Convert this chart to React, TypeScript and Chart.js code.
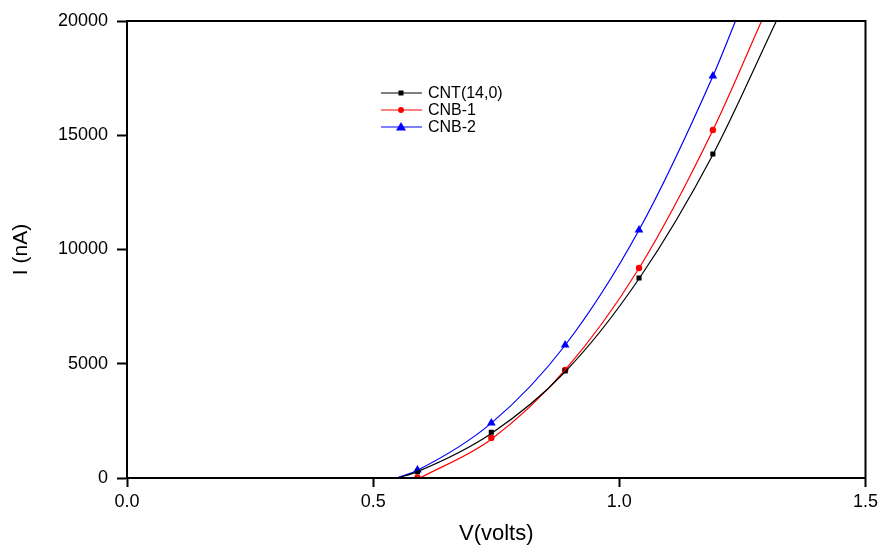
import React, { useEffect, useRef } from "react";
import { Chart, registerables } from "chart.js";

Chart.register(...registerables);

// Measured points
const voltages = [0.59, 0.74, 0.89, 1.04, 1.19];
const cntI = [280, 2000, 4680, 8750, 14180];
const cnb1I = [20, 1750, 4730, 9190, 15230];
const cnb2I = [350, 2410, 5820, 10850, 17590];

// Fitted curves
const cntFitV = [0.55, 0.59, 0.74, 0.89, 1.04, 1.19, 1.319];
const cntFitI = [0, 280, 1950, 4650, 8720, 14150, 20000];
const cnb1FitV = [0.595, 0.74, 0.89, 1.04, 1.19, 1.289];
const cnb1FitI = [0, 1700, 4730, 9180, 15220, 20000];
const cnb2FitV = [0.548, 0.59, 0.74, 0.89, 1.04, 1.19, 1.236];
const cnb2FitI = [0, 340, 2400, 5810, 10850, 17580, 20000];

const seriesNames = ["CNT(14,0)", "CNB-1", "CNB-2"];
const seriesColors = ["#000000", "#ff0000", "#0000ff"];
const seriesMarkers = ["rect", "circle", "triangle"];

const xTicks = [0, 0.5, 1.0, 1.5];
const yTicks = [0, 5000, 10000, 15000, 20000];

const FONT = "'Liberation Sans', Arial, sans-serif";

function pts(xs: number[], ys: number[]) {
  return xs.map((x, i) => ({ x, y: ys[i] }));
}

function drawMarker(ctx: CanvasRenderingContext2D, kind: string, x: number, y: number, color: string) {
  ctx.save();
  ctx.fillStyle = color;
  ctx.beginPath();
  if (kind === "rect") {
    ctx.rect(x - 2.5, y - 2.5, 5, 5);
  } else if (kind === "circle") {
    ctx.arc(x, y, 3, 0, Math.PI * 2);
  } else {
    ctx.moveTo(x, y - 5);
    ctx.lineTo(x + 5, y + 3.5);
    ctx.lineTo(x - 5, y + 3.5);
    ctx.closePath();
  }
  ctx.fill();
  ctx.restore();
}

const framePlugin = {
  id: "frame",
  afterDraw(chart: any) {
    const { ctx, chartArea } = chart;
    const { left, top, right, bottom } = chartArea;
    ctx.save();
    ctx.strokeStyle = "#000";
    ctx.lineWidth = 2;
    ctx.strokeRect(left, top, right - left, bottom - top);
    // legend
    const lx = left + 254;
    const ly = top + 72;
    ctx.font = `16px ${FONT}`;
    ctx.textBaseline = "middle";
    ctx.textAlign = "left";
    seriesNames.forEach((name, i) => {
      const y = ly + i * 17;
      ctx.strokeStyle = seriesColors[i];
      ctx.lineWidth = 1;
      ctx.beginPath();
      ctx.moveTo(lx, y);
      ctx.lineTo(lx + 41, y);
      ctx.stroke();
      drawMarker(ctx, seriesMarkers[i], lx + 20, y, seriesColors[i]);
      ctx.fillStyle = "#000";
      ctx.fillText(name, lx + 47, y + 1);
    });
    ctx.restore();
  },
};

export default function App() {
  const ref = useRef<HTMLCanvasElement | null>(null);

  useEffect(() => {
    if (!ref.current) return;
    const curveDs = (xs: number[], ys: number[], color: string) => ({
      type: "line" as const,
      data: pts(xs, ys),
      borderColor: color,
      backgroundColor: color,
      borderWidth: 1.2,
      pointRadius: 0,
      cubicInterpolationMode: "monotone" as const,
      fill: false,
    });
    const markerDs = (ys: number[], color: string, style: string, r: number) => ({
      type: "line" as const,
      data: pts(voltages, ys),
      showLine: false,
      borderColor: color,
      backgroundColor: color,
      pointStyle: style,
      pointRadius: r,
      pointBorderWidth: 0,
    });
    const chart = new Chart(ref.current, {
      type: "line",
      data: {
        datasets: [
          curveDs(cntFitV, cntFitI, seriesColors[0]),
          curveDs(cnb1FitV, cnb1FitI, seriesColors[1]),
          curveDs(cnb2FitV, cnb2FitI, seriesColors[2]),
          markerDs(cntI, seriesColors[0], "rect", 3.6),
          markerDs(cnb1I, seriesColors[1], "circle", 3.2),
          markerDs(cnb2I, seriesColors[2], "triangle", 5),
        ] as any,
      },
      options: {
        animation: false,
        responsive: false,
        layout: { padding: { left: 0, top: 21, right: 16, bottom: 0 } },
        plugins: { legend: { display: false }, tooltip: { enabled: false } },
        scales: {
          x: {
            type: "linear",
            min: 0,
            max: 1.5,
            afterBuildTicks: (s: any) => {
              s.ticks = xTicks.map((v) => ({ value: v }));
            },
            afterFit: (s: any) => {
              s.height = 70;
            },
            grid: { drawOnChartArea: false, tickLength: 9, tickColor: "#000", tickWidth: 2 },
            border: { display: true, color: "#000", width: 2 },
            ticks: {
              color: "#000",
              font: { family: FONT, size: 18 },
              padding: 4,
              callback: (v: any) => Number(v).toFixed(1),
            },
            title: {
              display: true,
              text: "V(volts)",
              color: "#000",
              font: { family: FONT, size: 22 },
              padding: { top: 0, bottom: 1 },
            },
          },
          y: {
            type: "linear",
            min: 0,
            max: 20000,
            afterBuildTicks: (s: any) => {
              s.ticks = yTicks.map((v) => ({ value: v }));
            },
            afterFit: (s: any) => {
              s.width = 127;
            },
            grid: { drawOnChartArea: false, tickLength: 10, tickColor: "#000", tickWidth: 2 },
            border: { display: true, color: "#000", width: 2 },
            ticks: {
              color: "#000",
              font: { family: FONT, size: 18 },
              padding: 9,
              callback: (v: any) => String(v),
            },
            title: {
              display: true,
              text: "I (nA)",
              color: "#000",
              font: { family: FONT, size: 21 },
              padding: { top: 9, bottom: 0 },
            },
          },
        },
      },
      plugins: [framePlugin],
    });
    return () => chart.destroy();
  }, []);

  return (
    <div style={{ position: "absolute", left: 0, top: 0, width: 882, height: 548 }}>
      <canvas ref={ref} width={882} height={548} style={{ width: 882, height: 548 }} />
    </div>
  );
}
